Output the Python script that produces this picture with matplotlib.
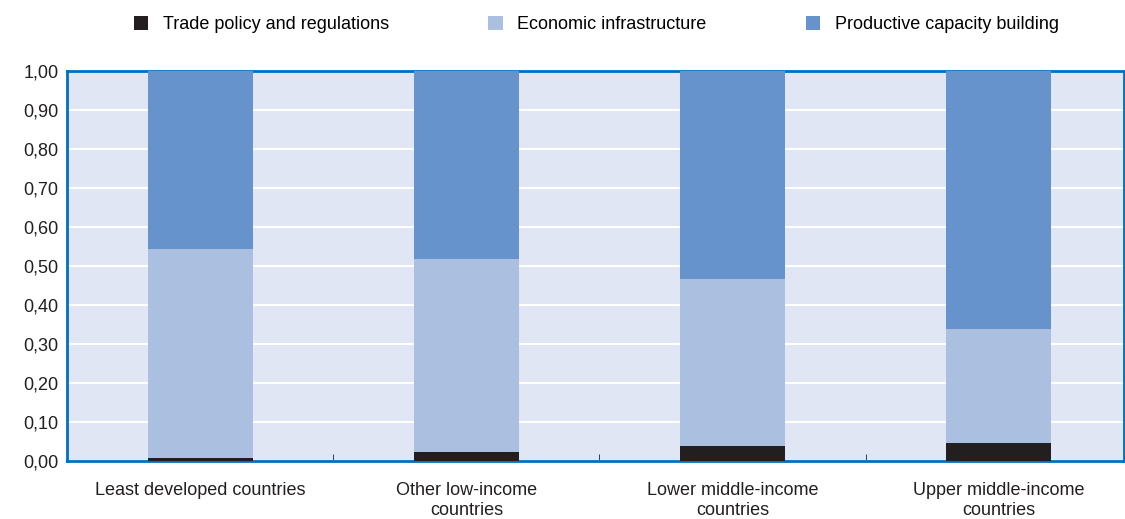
import matplotlib
matplotlib.use("Agg")
import matplotlib.pyplot as plt
import numpy as np

plt.rcParams['font.family'] = ['Liberation Sans Narrow', 'Liberation Sans', 'DejaVu Sans']

categories = ['Least developed countries', 'Other low-income\ncountries',
              'Lower middle-income\ncountries', 'Upper middle-income\ncountries']
trade = [0.007, 0.023, 0.038, 0.046]
econ = [0.537, 0.495, 0.429, 0.292]
productive = [1 - t - e for t, e in zip(trade, econ)]
series_names = ['Trade policy and regulations', 'Economic infrastructure',
                'Productive capacity building']
colors = ['#231F20', '#ABBFE0', '#6693CB']

fig = plt.figure(figsize=(11.25, 5.19), dpi=100)
ax = fig.add_axes([67 / 1125, 1 - 461 / 519, (1124 - 67) / 1125, (461 - 71) / 519])
ax.set_facecolor('#E0E6F4')

x = np.arange(len(categories))
w = 0.395
bottom = np.zeros(len(categories))
for vals, name, c in zip([trade, econ, productive], series_names, colors):
    ax.bar(x, vals, w, bottom=bottom, color=c, label=name, zorder=3)
    bottom += np.array(vals)

ax.set_ylim(0, 1)
ax.set_xlim(-0.5, 3.47)
ax.set_yticks(np.arange(0, 1.01, 0.1))
ax.set_yticklabels([f'{v:.2f}'.replace('.', ',') for v in np.arange(0, 1.01, 0.1)])
ax.yaxis.grid(True, color='white', linewidth=1.5, zorder=0)
ax.set_axisbelow(True)
ax.tick_params(axis='y', length=0, labelsize=13, colors='#231F20', pad=6)

ax.set_xticks(x)
ax.set_xticklabels(categories, fontsize=13, color='#231F20', linespacing=1.25)
ax.set_xticks([0.5, 1.5, 2.5], minor=True)
ax.tick_params(axis='x', which='major', length=0, pad=15)
ax.tick_params(axis='x', which='minor', direction='in', length=5, color='#231F20')

for s in ax.spines.values():
    s.set_color('#0070C0')
    s.set_linewidth(2)

handles, labels = ax.get_legend_handles_labels()
fig.legend(handles, labels, loc='upper center', bbox_to_anchor=(0.53, 1.0), ncol=3,
           frameon=False, fontsize=13, handlelength=0.8, handleheight=0.8,
           columnspacing=5.5, handletextpad=0.8)

fig.savefig('out.png', dpi=100)
